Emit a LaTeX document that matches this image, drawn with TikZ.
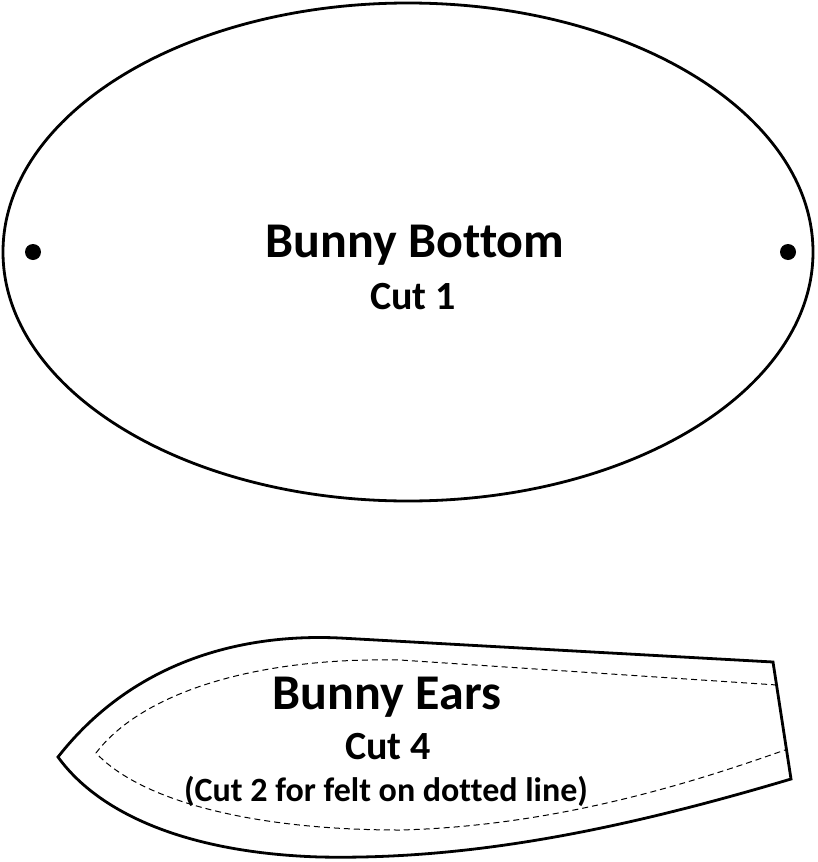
\documentclass[tikz,border=0pt]{standalone}
\usepackage{fontspec}
\setmainfont[Ligatures={NoCommon}]{Carlito}
\tikzset{pattern line/.style={draw=black, line width=2.8pt},
	seam line/.style={draw=black, line width=1pt, dash pattern=on 6pt off 4pt},
	big label/.style={font=\bfseries\fontsize{50}{60}\selectfont, inner sep=0pt},
	small label/.style={font=\bfseries\fontsize{40}{48}\selectfont, inner sep=0pt}}

\begin{document}
\begin{tikzpicture}[x=1pt,y=-1pt]
		\useasboundingbox (0,0) rectangle (817,862);
		\draw[pattern line] (408,252) ellipse [x radius=405, y radius=249]; %Draws the bottom piece
		\foreach \x in {33,788}
		\fill[shift={(\x,252)}] (0,0) circle (8); %Puts a dot
		\node[big label] (bottom) at (415,245) {Bunny Bottom};
		\node[small label] (cut1) at (413,297) {Cut 1};
		\draw[pattern line, line join=miter] (58,757) .. controls (130,665) and (235,633) .. (340,638) -- (773,662) -- (791,779) .. controls (620,830) and (470,860) .. (320,857) .. controls (190,853) and (100,815) .. (58,757) -- cycle; %Draws the ear
		\draw[seam line] (777,685) -- (400,660) .. controls (250,657) and (140,695) .. (96,753) .. controls (140,800) and (250,830) .. (400,830) .. controls (560,826) and (700,780) .. (785,750); %Draws the dotted line
		\node[big label] (ears) at (387,697) {Bunny Ears};
		\node[small label] (cut4) at (388,747) {Cut 4};
		\node[font=\bfseries\fontsize{34}{40}\selectfont, inner sep=0pt] (felt) at (386,791) {(Cut 2 for felt on dotted line)};
	\end{tikzpicture}
\end{document}
